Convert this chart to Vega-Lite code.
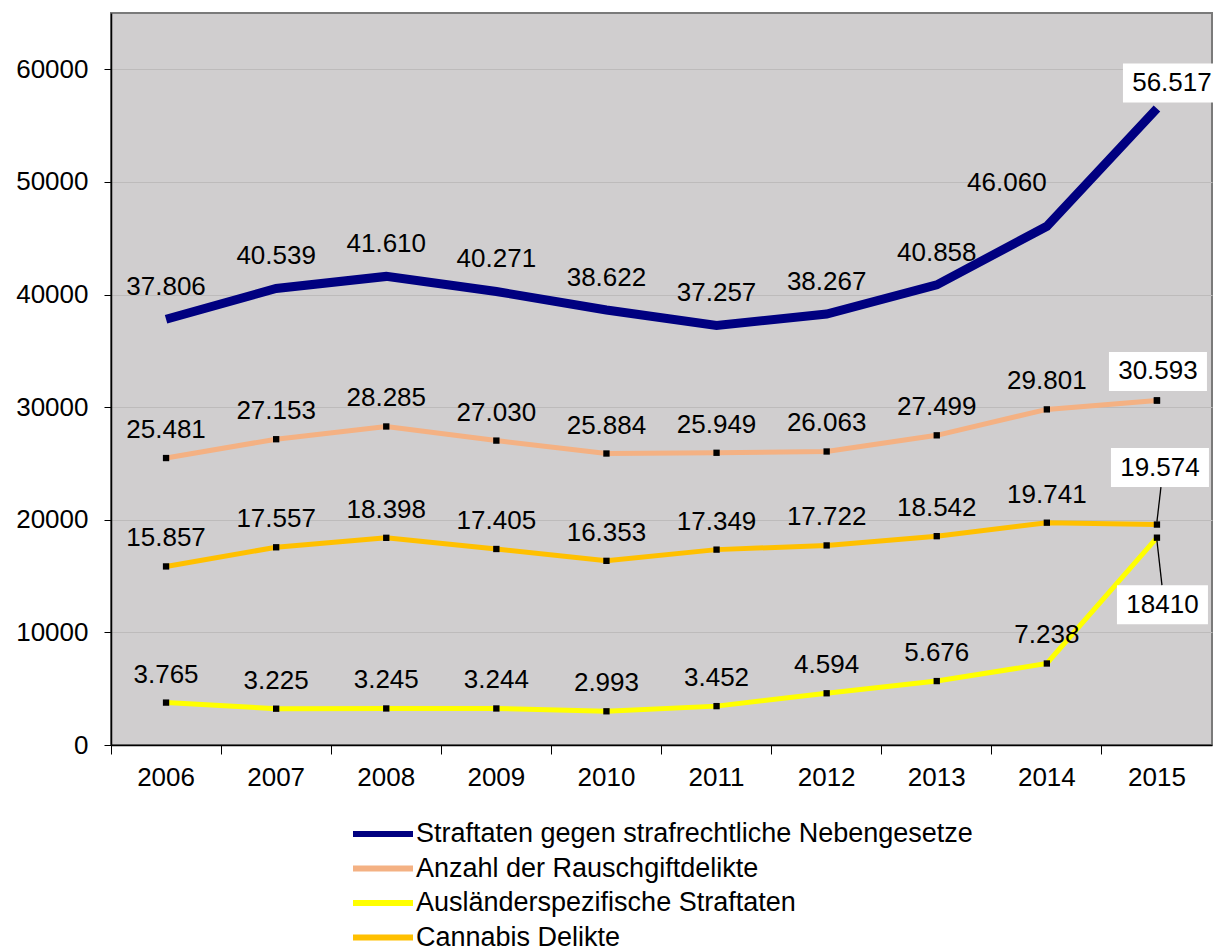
{
  "$schema": "https://vega.github.io/schema/vega-lite/v6.json",
  "width": 1101,
  "height": 732,
  "autosize": {"type": "none"},
  "padding": {"left": 111, "top": 13, "right": 12, "bottom": 205},
  "background": "white",
  "config": {
    "locale": {"number": {"decimal": ",", "thousands": ".", "grouping": [3], "currency": ["", " €"]}},
    "font": "Liberation Sans",
    "view": {"fill": "#d0cecf", "stroke": "#7a7a7a", "strokeWidth": 2},
    "text": {"font": "Liberation Sans", "fontSize": 26, "color": "black"}
  },
  "data": {
    "values": [
      {"year": "2006", "series": "Straftaten gegen strafrechtliche Nebengesetze", "value": 37806},
      {"year": "2007", "series": "Straftaten gegen strafrechtliche Nebengesetze", "value": 40539},
      {"year": "2008", "series": "Straftaten gegen strafrechtliche Nebengesetze", "value": 41610},
      {"year": "2009", "series": "Straftaten gegen strafrechtliche Nebengesetze", "value": 40271},
      {"year": "2010", "series": "Straftaten gegen strafrechtliche Nebengesetze", "value": 38622},
      {"year": "2011", "series": "Straftaten gegen strafrechtliche Nebengesetze", "value": 37257},
      {"year": "2012", "series": "Straftaten gegen strafrechtliche Nebengesetze", "value": 38267},
      {"year": "2013", "series": "Straftaten gegen strafrechtliche Nebengesetze", "value": 40858},
      {"year": "2014", "series": "Straftaten gegen strafrechtliche Nebengesetze", "value": 46060},
      {"year": "2015", "series": "Straftaten gegen strafrechtliche Nebengesetze", "value": 56517},
      {"year": "2006", "series": "Anzahl der Rauschgiftdelikte", "value": 25481},
      {"year": "2007", "series": "Anzahl der Rauschgiftdelikte", "value": 27153},
      {"year": "2008", "series": "Anzahl der Rauschgiftdelikte", "value": 28285},
      {"year": "2009", "series": "Anzahl der Rauschgiftdelikte", "value": 27030},
      {"year": "2010", "series": "Anzahl der Rauschgiftdelikte", "value": 25884},
      {"year": "2011", "series": "Anzahl der Rauschgiftdelikte", "value": 25949},
      {"year": "2012", "series": "Anzahl der Rauschgiftdelikte", "value": 26063},
      {"year": "2013", "series": "Anzahl der Rauschgiftdelikte", "value": 27499},
      {"year": "2014", "series": "Anzahl der Rauschgiftdelikte", "value": 29801},
      {"year": "2015", "series": "Anzahl der Rauschgiftdelikte", "value": 30593},
      {"year": "2006", "series": "Ausländerspezifische Straftaten", "value": 3765},
      {"year": "2007", "series": "Ausländerspezifische Straftaten", "value": 3225},
      {"year": "2008", "series": "Ausländerspezifische Straftaten", "value": 3245},
      {"year": "2009", "series": "Ausländerspezifische Straftaten", "value": 3244},
      {"year": "2010", "series": "Ausländerspezifische Straftaten", "value": 2993},
      {"year": "2011", "series": "Ausländerspezifische Straftaten", "value": 3452},
      {"year": "2012", "series": "Ausländerspezifische Straftaten", "value": 4594},
      {"year": "2013", "series": "Ausländerspezifische Straftaten", "value": 5676},
      {"year": "2014", "series": "Ausländerspezifische Straftaten", "value": 7238},
      {"year": "2015", "series": "Ausländerspezifische Straftaten", "value": 18410},
      {"year": "2006", "series": "Cannabis Delikte", "value": 15857},
      {"year": "2007", "series": "Cannabis Delikte", "value": 17557},
      {"year": "2008", "series": "Cannabis Delikte", "value": 18398},
      {"year": "2009", "series": "Cannabis Delikte", "value": 17405},
      {"year": "2010", "series": "Cannabis Delikte", "value": 16353},
      {"year": "2011", "series": "Cannabis Delikte", "value": 17349},
      {"year": "2012", "series": "Cannabis Delikte", "value": 17722},
      {"year": "2013", "series": "Cannabis Delikte", "value": 18542},
      {"year": "2014", "series": "Cannabis Delikte", "value": 19741},
      {"year": "2015", "series": "Cannabis Delikte", "value": 19574}
    ]
  },
  "encoding": {
    "x": {
      "field": "year", "type": "ordinal",
      "scale": {"type": "band", "paddingInner": 0, "paddingOuter": 0},
      "axis": {
        "title": null, "labelAngle": 0, "labelFontSize": 26, "labelColor": "black",
        "labelFont": "Liberation Sans", "bandPosition": 0, "tickSize": 9,
        "tickColor": "black", "domainColor": "black", "domainWidth": 1.5,
        "labelPadding": 10, "grid": false
      }
    },
    "y": {
      "field": "value", "type": "quantitative",
      "scale": {"domain": [0, 65000], "nice": false},
      "axis": {
        "title": null, "values": [0, 10000, 20000, 30000, 40000, 50000, 60000],
        "format": "d", "labelFontSize": 26, "labelColor": "black",
        "labelFont": "Liberation Sans", "tickSize": 7, "tickColor": "black",
        "domainColor": "black", "domainWidth": 1.5, "labelPadding": 16,
        "grid": true, "gridColor": "#bdbbbb", "gridWidth": 1
      }
    }
  },
  "layer": [
    {
      "transform": [{"filter": "datum.series != 'Straftaten gegen strafrechtliche Nebengesetze'"}],
      "mark": {"type": "line", "strokeWidth": 5},
      "encoding": {
        "color": {
          "field": "series", "type": "nominal",
          "scale": {
            "domain": ["Straftaten gegen strafrechtliche Nebengesetze", "Anzahl der Rauschgiftdelikte", "Ausländerspezifische Straftaten", "Cannabis Delikte"],
            "range": ["#000080", "#f4b183", "#ffff00", "#ffc000"]
          },
          "legend": {
            "title": null, "orient": "none", "legendX": 254, "legendY": 803,
            "direction": "vertical", "symbolType": "M-2,0H2", "symbolStrokeWidth": 6,
            "symbolSize": 900, "labelFontSize": 27, "labelFont": "Liberation Sans",
            "labelColor": "black", "rowPadding": 3.5, "labelOffset": 15, "labelLimit": 800,
            "labelExpr": "datum.label == 'Cannabis Delikte' ? '\u2002Cannabis Delikte' : datum.label"
          }
        }
      }
    },
    {
      "transform": [{"filter": "datum.series == 'Straftaten gegen strafrechtliche Nebengesetze'"}],
      "mark": {"type": "line", "strokeWidth": 9},
      "encoding": {"color": {"field": "series", "type": "nominal"}}
    },
    {
      "transform": [{"filter": "datum.series != 'Straftaten gegen strafrechtliche Nebengesetze'"}],
      "mark": {"type": "point", "shape": "square", "filled": true, "color": "black", "size": 40, "opacity": 1}
    },
    {
      "transform": [{"filter": "datum.series == 'Straftaten gegen strafrechtliche Nebengesetze' && datum.year != '2014' && datum.year != '2015'"}],
      "mark": {"type": "text", "dy": -32},
      "encoding": {"text": {"field": "value", "type": "quantitative", "format": ",d"}}
    },
    {
      "transform": [{"filter": "datum.series != 'Straftaten gegen strafrechtliche Nebengesetze' && datum.year != '2015'"}],
      "mark": {"type": "text", "dy": -28},
      "encoding": {"text": {"field": "value", "type": "quantitative", "format": ",d"}}
    },
    {
      "transform": [{"filter": "datum.series == 'Straftaten gegen strafrechtliche Nebengesetze' && datum.year == '2014'"}],
      "mark": {"type": "text", "dx": -40, "dy": -43},
      "encoding": {"text": {"field": "value", "type": "quantitative", "format": ",d"}}
    },
    {
      "transform": [{"filter": "datum.series == 'Straftaten gegen strafrechtliche Nebengesetze' && datum.year == '2015'"}],
      "layer": [
        {"mark": {"type": "point", "shape": "M-34,-45H64V-6H-34Z", "size": 4, "filled": true, "fill": "white", "strokeWidth": 0, "opacity": 1}},
        {"mark": {"type": "text", "dx": 15, "dy": -25.5}, "encoding": {"text": {"field": "value", "type": "quantitative", "format": ",d"}}}
      ]
    },
    {
      "transform": [{"filter": "datum.series == 'Anzahl der Rauschgiftdelikte' && datum.year == '2015'"}],
      "layer": [
        {"mark": {"type": "point", "shape": "M-48,-48.5H50V-9.5H-48Z", "size": 4, "filled": true, "fill": "white", "strokeWidth": 0, "opacity": 1}},
        {"mark": {"type": "point", "shape": "square", "filled": true, "color": "black", "size": 40, "opacity": 1}},
        {"mark": {"type": "text", "dx": 1, "dy": -29}, "encoding": {"text": {"field": "value", "type": "quantitative", "format": ",d"}}}
      ]
    },
    {
      "transform": [{"filter": "datum.series == 'Cannabis Delikte' && datum.year == '2015'"}],
      "layer": [
        {"mark": {"type": "point", "shape": "M-46,-76.5H52V-37.5H-46Z", "size": 4, "filled": true, "fill": "white", "strokeWidth": 0, "opacity": 1}},
        {"mark": {"type": "point", "shape": "M4,-37.5L0,-3", "size": 4, "filled": false, "stroke": "black", "strokeWidth": 1.3, "opacity": 1}},
        {"mark": {"type": "text", "dx": 3, "dy": -57}, "encoding": {"text": {"field": "value", "type": "quantitative", "format": ",d"}}}
      ]
    },
    {
      "transform": [{"filter": "datum.series == 'Ausländerspezifische Straftaten' && datum.year == '2015'"}],
      "layer": [
        {"mark": {"type": "point", "shape": "M-40,47.5H51V86.5H-40Z", "size": 4, "filled": true, "fill": "white", "strokeWidth": 0, "opacity": 1}},
        {"mark": {"type": "point", "shape": "M0,3L5,47.5", "size": 4, "filled": false, "stroke": "black", "strokeWidth": 1.3, "opacity": 1}},
        {"mark": {"type": "text", "dx": 5.5, "dy": 67}, "encoding": {"text": {"field": "value", "type": "quantitative", "format": "d"}}}
      ]
    }
  ]
}
